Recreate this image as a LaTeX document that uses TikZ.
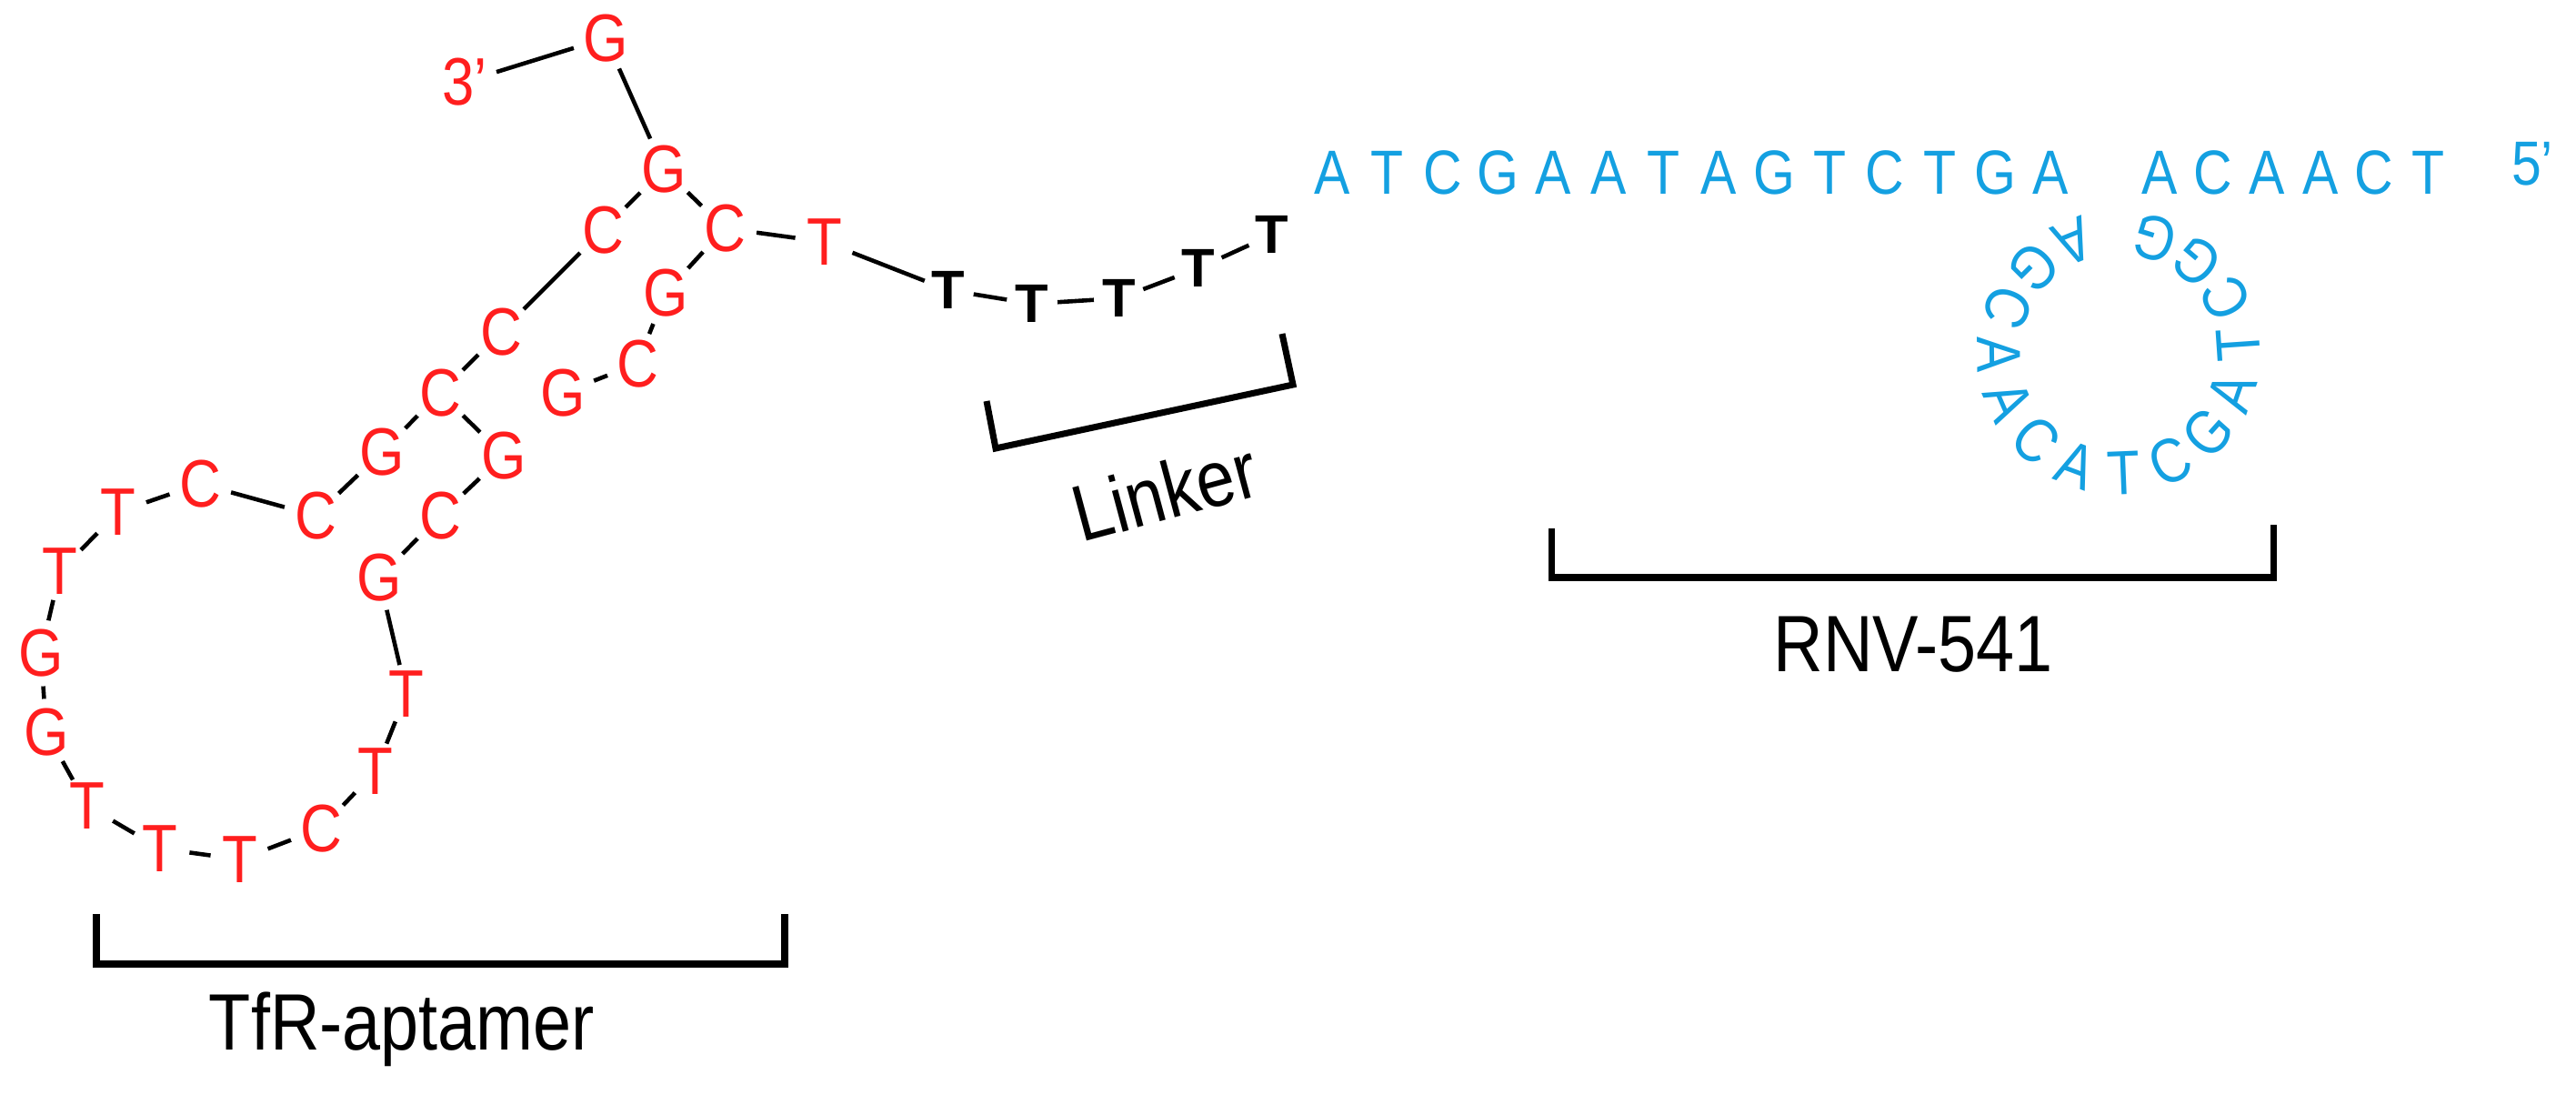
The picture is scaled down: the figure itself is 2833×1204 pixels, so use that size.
\documentclass[tikz,border=0pt]{standalone}
\usepackage{fontspec}
\setmainfont{Liberation Sans}
\newfontfamily\narrowf[FakeStretch=0.86]{Liberation Sans}
\usetikzlibrary{calc}
\definecolor{nred}{RGB}{255,30,30}
\definecolor{nblue}{RGB}{20,160,225}
\begin{document}
\begin{tikzpicture}[x=0.01cm,y=-0.01cm,
  rb/.style={circle,inner sep=0pt,minimum size=0.64cm,text=nred,font=\narrowf\fontsize{21}{21}\selectfont},
  kb/.style={circle,inner sep=0pt,minimum size=0.52cm,font=\bfseries\fontsize{17}{17}\selectfont},
  bl/.style={inner sep=0pt,text=nblue,font=\narrowf\fontsize{19.5}{19.5}\selectfont},
  bond/.style={line width=1.3pt},
  brk/.style={line width=2pt},
  lab/.style={font=\narrowf\fontsize{25}{25}\selectfont}]
\useasboundingbox (0,0) rectangle (2833,1204);
% red aptamer
\node[rb] (p3) at (511,90) {3’};
\node[rb] (g1) at (666,42) {G};
\node[rb] (g2) at (730,186) {G};
\node[rb] (cr) at (797,251) {C};
\node[rb] (cl) at (663,253) {C};
\node[rb] (rt) at (907,266) {T};
\node[rb] (gr) at (732,322) {G};
\node[rb] (c5) at (701,400) {C};
\node[rb] (g6) at (619,432) {G};
\node[rb] (c7) at (551,365) {C};
\node[rb] (c8) at (484,432) {C};
\node[rb] (g9) at (554,501) {G};
\node[rb] (gl) at (420,497) {G};
\node[rb] (c10) at (347,567) {C};
\node[rb] (c11) at (220,532) {C};
\node[rb] (t1) at (130,563) {T};
\node[rb] (t2) at (66,628) {T};
\node[rb] (gg1) at (45,718) {G};
\node[rb] (gg2) at (51,805) {G};
\node[rb] (t3) at (96,886) {T};
\node[rb] (t4) at (176,933) {T};
\node[rb] (t5) at (264,945) {T};
\node[rb] (c12) at (353,911) {C};
\node[rb] (t6) at (413,848) {T};
\node[rb] (t7) at (447,763) {T};
\node[rb] (g13) at (417,635) {G};
\node[rb] (c14) at (484,567) {C};
\foreach \a/\b in {p3/g1,g1/g2,g2/cl,g2/cr,cr/rt,cr/gr,gr/c5,c5/g6,cl/c7,c7/c8,c8/gl,c8/g9,gl/c10,c10/c11,c11/t1,t1/t2,t2/gg1,gg1/gg2,gg2/t3,t3/t4,t4/t5,t5/c12,c12/t6,t6/t7,t7/g13,g13/c14,c14/g9}
  \draw[bond] (\a) -- (\b);
% linker
\node[kb] (k1) at (1043,319) {T};
\node[kb] (k2) at (1135,334) {T};
\node[kb] (k3) at (1231,328) {T};
\node[kb] (k4) at (1318,295) {T};
\node[kb] (k5) at (1399,258) {T};
\foreach \a/\b in {rt/k1,k1/k2,k2/k3,k3/k4,k4/k5}
  \draw[bond] (\a) -- (\b);
\coordinate (lb1) at (1085,441);
\coordinate (lb2) at (1095,493);
\coordinate (lb3) at (1422,423);
\coordinate (lb4) at (1410,367);
\draw[brk] (lb1) -- (lb2) -- (lb3) -- (lb4);
\node[lab,rotate=15] (linker) at (1281,540) {Linker};
% blue DNAzyme
\foreach \l [count=\i from 0] in {A,T,C,G,A,A,T,A,G,T,C,T,G,A}
  \node[bl] (s\i) at (1465+60.8*\i,190) {\l};
\foreach \l [count=\i from 0] in {A,C,A,A,C,T}
  \node[bl] (r\i) at (2375+59*\i,190) {\l};
\node[bl] (p5) at (2785,180) {5’};
\coordinate (lc) at (2330,388);
\foreach \l [count=\i from 0] in {A,G,C,A,A,C,A,T,C,G,A,T,C,G,G}{
  \pgfmathsetmacro{\ang}{112+22.9*\i}
  \node[bl,rotate=\ang+90] (q\i) at ($(lc)+(-\ang:132)$) {\l};
}
\coordinate (rb1) at (1706,581);
\coordinate (rb2) at (1706,635);
\coordinate (rb3) at (2500,635);
\coordinate (rb4) at (2500,577);
\draw[brk] (rb1) -- (rb2) -- (rb3) -- (rb4);
\node[lab] (rnv) at (2104,709) {RNV-541};
% aptamer bracket
\coordinate (ab1) at (106,1005);
\coordinate (ab2) at (106,1060);
\coordinate (ab3) at (863,1060);
\coordinate (ab4) at (863,1005);
\draw[brk] (ab1) -- (ab2) -- (ab3) -- (ab4);
\node[lab] (tfr) at (442,1132) {TfR-aptamer};
\end{tikzpicture}
\end{document}
